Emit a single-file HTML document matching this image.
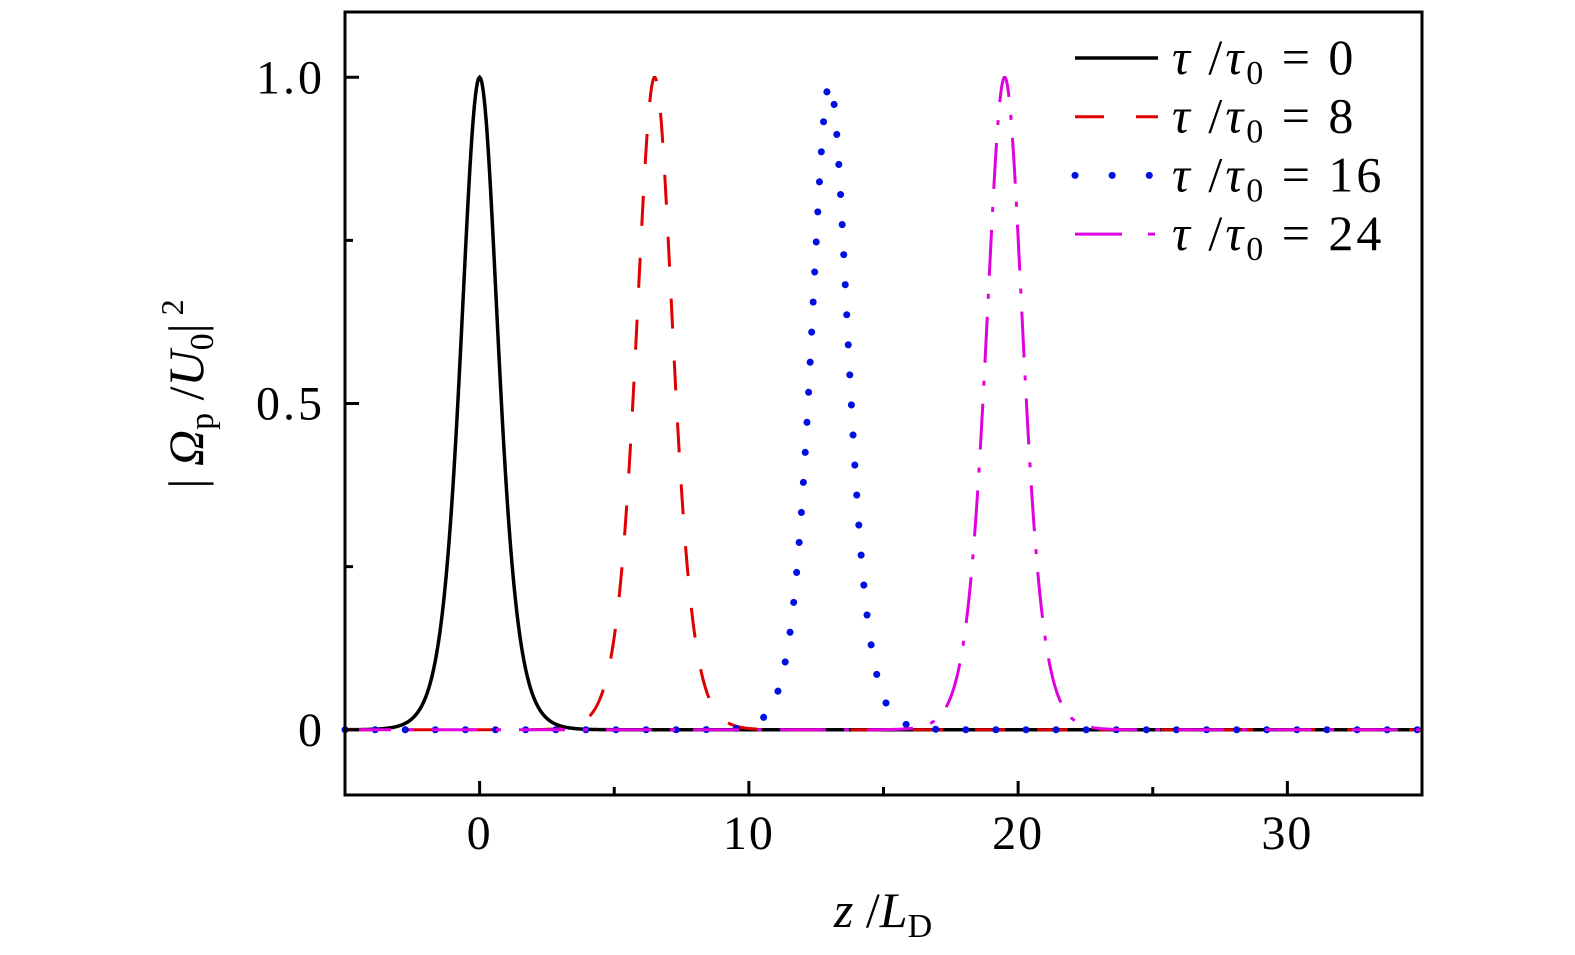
<!DOCTYPE html>
<html><head><meta charset="utf-8"><style>
html,body{margin:0;padding:0;background:#fff;}
svg{display:block;font-family:"Liberation Serif",serif;}
</style></head><body>
<svg id="c" width="1575" height="955" viewBox="0 0 1575 955" xmlns="http://www.w3.org/2000/svg">
<g id="series"></g>
<rect x="345" y="12" width="1077" height="783" fill="none" stroke="#000" stroke-width="3"/>
<g id="axes"></g>
<text transform="translate(203,394) rotate(-90)" text-anchor="middle" font-size="50"><tspan>| </tspan><tspan font-style="italic">Ω</tspan><tspan font-size="34" dy="10">p</tspan><tspan dy="-10"> /</tspan><tspan font-style="italic">U</tspan><tspan font-size="34" dy="10">0</tspan><tspan dy="-10">|</tspan><tspan font-size="32" dy="-20"> 2</tspan></text>
<text x="883" y="927" text-anchor="middle" font-size="50"><tspan font-style="italic">z</tspan><tspan> /</tspan><tspan font-style="italic">L</tspan><tspan font-size="34" dy="10">D</tspan></text>
<g id="legend"></g>
</svg>
<script>
const labels = ["0", "8", "16", "24"];
const centers = [0, 6.5, 13, 19.5];
const amplitudes = [1.0, 1.0, 0.99, 1.0];
const widths = [0.92, 0.92, 0.92, 0.92];
const xTicks = [0, 10, 20, 30];
const xMinor = [5, 15, 25];
const yTicks = [0, 0.5, 1.0];
const yTickLabels = ["0", "0.5", "1.0"];
const yMinor = [0.25, 0.75];

const X0=345, X1=1422, Y0=795, Y1=12, xmin=-5, xmax=35, ymin=-0.1, ymax=1.1;
const sx = v => X0 + (v - xmin) / (xmax - xmin) * (X1 - X0);
const sy = v => Y0 - (v - ymin) / (ymax - ymin) * (Y0 - Y1);
const NS = "http://www.w3.org/2000/svg";
function mk(tag, attrs, parent){const e=document.createElementNS(NS,tag);for(const k in attrs)e.setAttribute(k,attrs[k]);parent.appendChild(e);return e;}
const styles = [
 {stroke:"#000", dash:"", w:3.5, cap:"butt"},
 {stroke:"#e00000", dash:"30 32", w:3, cap:"butt"},
 {stroke:"#0010e0", dash:"0.1 30", w:7, cap:"round"},
 {stroke:"#e000e0", dash:"46 18 5 18", w:3, cap:"butt"}
];
const sg=document.getElementById('series');
centers.forEach((c,i)=>{
  let d="";
  for(let k=0;k<=1000;k++){
    const x=xmin+(xmax-xmin)*k/1000;
    const s=1/Math.cosh((x-c)/widths[i]);
    const y=amplitudes[i]*s*s;
    d+=(k?"L":"M")+sx(x).toFixed(2)+","+sy(y).toFixed(2);
  }
  const st=styles[i];
  const p=mk('path',{d:d,fill:"none",stroke:st.stroke,"stroke-width":st.w,"stroke-dasharray":st.dash,"stroke-linecap":st.cap},sg);
  
  
});
const ax=document.getElementById('axes');
xTicks.forEach(t=>{
  const l=mk('line',{x1:sx(t),x2:sx(t),y1:Y0,y2:Y0-14,stroke:"#000","stroke-width":3},ax);
  
  
  const tx=mk('text',{x:sx(t),y:849,"text-anchor":"middle","font-size":48,"letter-spacing":"2"},ax);
  tx.textContent=t;
  
  
});
xMinor.forEach(t=>{
  const l=mk('line',{x1:sx(t),x2:sx(t),y1:Y0,y2:Y0-8,stroke:"#000","stroke-width":3},ax);
  
  
});
yTicks.forEach((t,i)=>{
  const l=mk('line',{x1:X0,x2:X0+14,y1:sy(t),y2:sy(t),stroke:"#000","stroke-width":3},ax);
  
  
  const tx=mk('text',{x:325,y:sy(t)+16,"text-anchor":"end","font-size":48,"letter-spacing":"3"},ax);
  tx.textContent=yTickLabels[i];
  
  
});
yMinor.forEach(t=>{
  const l=mk('line',{x1:X0,x2:X0+8,y1:sy(t),y2:sy(t),stroke:"#000","stroke-width":3},ax);
  
  
});
const lg=document.getElementById('legend');
labels.forEach((lab,i)=>{
  const y=58+i*58.7, st=styles[i];
  const g=mk('g',{},lg);
  
  
  let dash=st.dash;
  if(i===1)dash="29 32"; if(i===2)dash="0.1 37"; if(i===3)dash="47 26 7 30";
  mk('line',{x1:1075,x2:1158,y1:y,y2:y,stroke:st.stroke,"stroke-width":st.w,"stroke-dasharray":dash,"stroke-linecap":st.cap},g);
  const t=mk('text',{x:1172,y:y+16,"font-size":50,"letter-spacing":"3"},g);
  t.innerHTML='<tspan font-style="italic">τ</tspan> /<tspan font-style="italic">τ</tspan><tspan font-size="34" dy="10">0</tspan><tspan dy="-10"> = '+lab+'</tspan>';
});
</script>
</body></html>
